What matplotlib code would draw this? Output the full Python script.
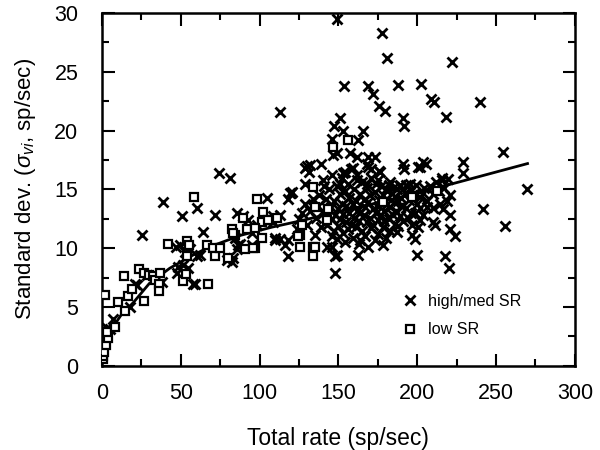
import numpy as np
import matplotlib
matplotlib.use("Agg")
import matplotlib.pyplot as plt
from matplotlib.ticker import MultipleLocator

plt.rcParams['font.family'] = ['Liberation Sans', 'DejaVu Sans']
plt.rcParams['mathtext.fontset'] = 'custom'
plt.rcParams['mathtext.rm'] = 'Liberation Sans'
plt.rcParams['mathtext.it'] = 'Liberation Sans:italic'

# high/med SR fibers (total rate, std dev)
high_x = [3.2, 5, 7, 17.8, 21, 22.2, 25.4, 28.5, 38, 38.7, 47.5, 49.5, 51, 46.9, 48.2, 51.3,
          52.6, 54.5, 57.7, 55.8, 59, 60, 60.2, 62, 64, 72, 74, 81, 79.2, 82.4, 83, 84.3,
          85.5, 85.6, 86.2, 87.5, 89.4, 92.6, 95.1, 95.1, 98.3, 105, 108.4, 108.4, 109.7,
          109.7, 112.9, 112.9, 112.9, 116, 117.9, 117.9, 118, 119.2, 120, 120.5, 123.6,
          128.7, 128.7, 128.7, 130, 131.2, 131.9, 138.8, 140, 135, 145.8, 142.6, 145.8,
          147.7, 147.7, 149, 162.3, 178, 163.6, 187, 199.7, 217.5, 220, 223.8, 198.4, 220.6,
          149, 177.5, 180.7, 221.9, 153.4, 168.6, 171.8, 187.7, 202.2, 208.6, 210.5, 218.1,
          239.6, 175.6, 179.4, 190.8, 191.5, 150.9, 147, 152.8, 165.5, 162.3, 145.8, 149,
          157.2, 161.7, 168.6, 173, 152.8, 159.1, 168, 171, 176, 190.8, 191.5, 201.6, 205.4,
          228.9, 228.9, 254.2, 269.5, 241.6, 255.5, 216, 203.5, 200.3, 215.6, 219.4, 220.6,
          203.5, 197, 201.6, 206, 209.8, 214.3, 216.2, 220.6, 198.4, 203.5, 201.6, 209.8,
          211, 200.3, 197, 146.5, 154, 168.6, 176.3, 150.9, 161.7, 168, 175, 182.6, 189, 195.3,
          140, 142, 143, 144, 145, 146, 146, 147, 147, 148, 149, 149, 150, 150, 151, 151,
          152, 152, 153, 153, 154, 154, 155, 155, 156, 156, 157, 157, 158, 158, 159, 159,
          160, 160, 161, 161, 162, 162, 163, 163, 164, 164, 165, 165, 166, 166, 167, 167,
          168, 168, 169, 169, 170, 170, 171, 171, 172, 172, 173, 173, 174, 174, 175, 175,
          176, 176, 177, 177, 178, 178, 179, 179, 180, 180, 181, 181, 182, 182, 183, 183,
          184, 184, 185, 185, 186, 186, 187, 187, 188, 188, 189, 189, 190, 190, 191, 191,
          192, 193, 193, 194, 195, 196, 196, 197, 198, 199, 200, 202, 204, 206, 208, 210,
          212, 214, 217, 219, 136, 138, 139, 141, 137, 134, 132, 130, 127, 125]
high_y = [3.2, 3.1, 4.0, 5.0, 7.0, 6.9, 11.1, 7.7, 7.1, 13.9, 7.9, 10.3, 12.7, 10.1, 8.4, 8.6,
          9.7, 8.3, 7.0, 9.9, 7.0, 13.4, 9.3, 9.4, 11.4, 12.8, 16.4, 16.0, 9.0, 8.8, 9.2, 10.9,
          13.0, 9.9, 10.3, 10.4, 12.7, 12.4, 11.3, 10.3, 12.0, 14.3, 12.7, 12.2, 10.7,
          10.9, 21.6, 10.8, 12.8, 10.3, 9.3, 10.7, 14.2, 14.7, 14.7, 14.8, 11.6,
          15.5, 16.8, 13.8, 17.0, 16.5, 17.1, 17.2, 15.8, 11.1, 11.0, 10.1, 10.1,
          7.9, 9.3, 9.4, 9.4, 10.3, 10.7, 11.4, 9.4, 9.3, 8.3, 11.0, 10.8, 11.6,
          29.5, 28.3, 26.2, 25.8, 23.8, 23.8, 23.1, 23.9, 24.0, 22.7, 22.4, 21.2,
          22.4, 22.1, 21.7, 21.1, 20.4, 21.1, 20.4, 20.0, 20.0, 19.2, 19.3, 18.1,
          18.1, 17.8, 17.8, 17.8, 16.4, 16.8, 17.2, 16.7, 16.6, 17.2, 16.7, 16.9, 17.2,
          17.3, 16.4, 18.2, 15.0, 13.3, 11.9, 15.8, 17.3, 16.9, 16.0, 15.9, 14.5,
          14.7, 14.5, 13.4, 13.5, 13.4, 13.8, 13.3, 12.8, 13.0, 12.8, 12.4, 12.2,
          12.0, 11.8, 11.1, 17.9, 16.5, 16.9, 16.5, 15.5, 15.8, 15.5, 15.8, 15.6, 15.4, 15.5,
          13.0, 14.2, 12.0, 15.0, 13.5, 12.5, 16.2, 11.5, 14.0, 12.8, 15.3, 10.8, 13.3, 11.9, 14.6, 12.5,
          16.0, 13.8, 11.3, 12.9, 14.9, 10.5, 13.6, 12.2, 15.5, 11.6, 13.0, 14.3, 12.0, 16.7, 10.9, 13.8,
          12.6, 15.0, 11.8, 14.0, 13.2, 16.2, 12.3, 10.4, 14.6, 13.0, 11.5, 15.6, 12.8, 14.1, 13.5, 11.0,
          12.2, 15.1, 13.9, 10.1, 12.6, 14.5, 11.7, 16.0, 13.3, 12.0, 14.8, 10.7, 13.0, 15.5, 12.4, 11.2,
          14.1, 13.6, 12.8, 15.3, 11.8, 14.5, 13.2, 12.3, 15.0, 10.9, 13.8, 14.9, 12.5, 15.4, 13.5, 11.5,
          14.7, 12.9, 15.2, 13.9, 12.1, 14.4, 15.0, 13.1, 14.0, 11.9, 15.3, 12.7, 14.3, 13.6, 15.0, 12.3,
          14.7, 13.4, 15.4, 12.6, 14.1, 15.0, 13.0, 12.0, 14.6, 15.4, 13.8, 14.4, 15.1, 14.0, 15.3, 14.6,
          15.6, 14.9, 15.1, 14.0, 12.6, 14.5, 11.8, 15.3, 13.6, 14.2, 13.2, 12.0, 13.0, 12.5]

# low SR fibers
low_x = [0.6, 0.6, 1.3, 2.5, 3.8, 3.2, 1.9, 8.2, 10.1, 13.9, 14.6, 16.5, 19, 23.5, 26.6, 26.6,
         29.8, 32.3, 33.6, 36.8, 36.1, 36.1, 41.8, 51.3, 53.3, 53.9, 53.9, 55.2, 58.3, 66.6,
         67.2, 70.4, 71.6, 74.8, 79.9, 82.4, 84.3, 89.4, 91.9, 97, 98.3, 101.4, 102, 107.8,
         111, 101.4, 105.2, 83, 97, 90.7, 95.8, 125.5, 126.8, 124.3, 125.5, 133.8, 133.8, 135,
         133.8, 135, 143.3, 142.6, 146.5, 156, 178, 196.5, 212.4]
low_y = [0.6, 0.85, 1.2, 1.8, 2.4, 2.9, 6.0, 3.3, 5.4, 7.6, 4.7, 5.9, 6.5, 8.2, 7.9, 5.5,
         7.7, 7.6, 7.3, 7.9, 7.0, 6.4, 10.4, 7.2, 7.8, 9.3, 10.6, 10.3, 14.4, 10.3,
         7.0, 10.0, 9.3, 10.0, 9.2, 11.6, 11.1, 12.6, 11.6, 10.0, 14.2, 10.9, 13.1, 12.4,
         12.6, 12.2, 12.4, 11.3, 11.7, 9.9, 10.0, 11.1, 12.0, 11.0, 10.1, 9.3, 10.1, 10.1,
         15.2, 13.5, 13.3, 12.4, 18.6, 19.2, 13.9, 14.4, 14.9]

# fitted curve
fit_x = [0.5, 2, 4, 8, 12, 20, 30, 43, 56, 68, 88, 108, 125, 150, 195, 270]
fit_y = [0.8, 1.8, 2.6, 3.5, 4.3, 5.4, 7.0, 8.3, 9.3, 10.1, 11.1, 11.8, 12.3, 13.1, 14.5, 17.2]

fig = plt.figure(figsize=(6, 4.5), dpi=100)
ax = fig.add_axes([0.17, 0.187, 0.788, 0.784])

ax.plot(fit_x, fit_y, color='black', lw=2, zorder=1)
ax.plot(high_x, high_y, ls='none', marker='x', ms=6.5, mew=2, color='black',
        label='high/med SR', zorder=2)
ax.plot(low_x, low_y, ls='none', marker='s', ms=5.5, mew=1.6, mfc='white', mec='black',
        label='low SR', zorder=3)

ax.set_xlim(0, 300)
ax.set_ylim(0, 30)
ax.xaxis.set_major_locator(MultipleLocator(50))
ax.xaxis.set_minor_locator(MultipleLocator(25))
ax.yaxis.set_major_locator(MultipleLocator(5))
ax.yaxis.set_minor_locator(MultipleLocator(2.5))
ax.tick_params(which='both', direction='in', top=True, right=True, width=1.5,
               labelsize=15.5)
ax.tick_params(axis='x', pad=12)
ax.tick_params(axis='y', pad=17)
ax.tick_params(which='major', length=9)
ax.tick_params(which='minor', length=5)
for s in ax.spines.values():
    s.set_linewidth(1.8)

ax.set_xlabel('Total rate (sp/sec)', fontsize=16.5, labelpad=17)
ax.set_ylabel(r'Standard dev. ($\sigma_{vi}$, sp/sec)', fontsize=16, labelpad=12)

ax.legend(loc='lower left', bbox_to_anchor=(0.6, 0.04), frameon=False, fontsize=11.6,
          handletextpad=0.5, labelspacing=0.85, handlelength=1.2)

fig.savefig('out.png', dpi=100)
